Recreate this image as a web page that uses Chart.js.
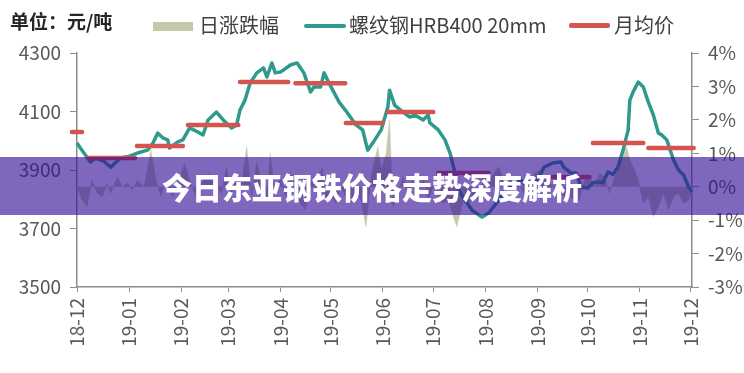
<!DOCTYPE html>
<html>
<head>
<meta charset="utf-8">
<script src="https://cdn.jsdelivr.net/npm/chart.js@4.4.1/dist/chart.umd.min.js"></script>
<style>
  body { margin: 0; background: #fff; }
  #wrap { position: relative; width: 744px; height: 373px; overflow: hidden;
          font-family: "Noto Sans CJK SC", "Noto Sans", sans-serif; }
  #c { position: absolute; left: 0; top: 0; }
  .unit { position: absolute; left: 10px; top: 7px; font-size: 19px; font-weight: bold; color: #262626; }
  .lg { position: absolute; top: 12px; font-size: 20px; color: #404040; line-height: 26px; }
  .sw { position: absolute; }
  #banner { position: absolute; left: 0; top: 157px; width: 744px; height: 58px;
            background: rgba(52, 14, 150, 0.63); color: #fff; text-align: center;
            font-size: 30px; font-weight: 900; line-height: 58px; letter-spacing: 0px; }
</style>
</head>
<body>
<div id="wrap">
  <canvas id="c" width="744" height="373"></canvas>
  <div class="unit">单位：元/吨</div>
  <div class="sw" style="left:153px; top:22px; width:40px; height:9px; background:#C6C8AB;"></div>
  <div class="lg" style="left:199px;">日涨跌幅</div>
  <div class="sw" style="left:304px; top:24px; width:42px; height:4px; background:#2E9A8E; border-radius:2px;"></div>
  <div class="lg" style="left:349px;">螺纹钢HRB400 20mm</div>
  <div class="sw" style="left:569px; top:23px; width:41px; height:5px; background:#D4544F; border-radius:2px;"></div>
  <div class="lg" style="left:614px;">月均价</div>
  <div id="banner">今日东亚钢铁价格走势深度解析</div>
</div>
<script>
// x axis = days since 2018-12-01
const monthDays = [0, 31, 62, 90, 121, 151, 182, 212, 243, 274, 304, 335, 365];
const monthLabels = ['18-12', '19-01', '19-02', '19-03', '19-04', '19-05', '19-06',
                     '19-07', '19-08', '19-09', '19-10', '19-11', '19-12'];

// 螺纹钢HRB400 20mm (元/吨)
const priceDays = [0, 2, 8, 11, 16, 20, 26, 30, 36, 42, 45, 48, 51, 54, 55, 60, 63, 67, 72, 75,
  78, 83, 87, 92, 95, 97, 100, 103, 107, 111, 113, 116, 118, 121, 123, 127, 131, 135, 139, 141,
  145, 147, 150, 156, 161, 166, 170, 173, 176, 181, 185, 186, 189, 194, 198, 201, 206, 209, 210,
  215, 219, 222, 225, 227, 231, 235, 241, 245, 248, 252, 256, 260, 264, 268, 274, 278, 283, 288,
  290, 294, 297, 300, 304, 307, 310, 313, 316, 319, 322, 325, 328, 329, 331, 334, 337, 340, 343,
  346, 348, 351, 355, 358, 361, 364, 366];
const priceValues = [3992, 3975, 3927, 3941, 3930, 3910, 3941, 3945, 3958, 3968, 3990, 4026, 4010,
  4003, 3975, 3996, 4003, 4044, 4030, 4020, 4071, 4098, 4071, 4044, 4054, 4105, 4139, 4197, 4232,
  4249, 4218, 4266, 4232, 4235, 4242, 4259, 4266, 4232, 4167, 4184, 4184, 4232, 4197, 4132, 4095,
  4054, 4037, 3968, 3992, 4037, 4115, 4173, 4122, 4098, 4081, 4088, 4071, 4088, 4061, 4037, 4003,
  3958, 3890, 3832, 3797, 3763, 3739, 3753, 3775, 3805, 3842, 3842, 3866, 3842, 3866, 3910, 3924,
  3927, 3907, 3890, 3890, 3842, 3838, 3856, 3860, 3856, 3893, 3885, 3910, 3968, 4037, 4139, 4167,
  4201, 4184, 4132, 4088, 4026, 4020, 4003, 3934, 3900, 3883, 3842, 3825];

// 月均价 segments
const avgStart = [-3, 6.5, 35.7, 66, 97, 130, 160, 185, 215, 283, 307, 340];
const avgEnd = [3, 34.5, 63, 96, 125.7, 159.6, 182, 212, 245, 305, 337, 367];
const avgValues = [4030, 3941, 3982, 4054, 4201, 4197, 4061, 4098, 3890, 3876, 3992, 3975];

// 日涨跌幅 (%)
const changeDays = [0, 3, 6, 9, 12, 15, 18, 20, 24, 27, 30, 33, 36, 40, 44, 47, 50, 53, 57, 60,
  64, 67, 71, 74, 78, 82, 86, 89, 92, 95, 98, 101, 104, 107, 110, 113, 115, 118, 121, 124, 127,
  130, 133, 136, 139, 142, 146, 148, 151, 154, 157, 160, 163, 166, 169, 172, 175, 179, 181, 184,
  186, 188, 191, 194, 197, 200, 203, 206, 209, 212, 215, 218, 221, 224, 226, 230, 233, 236, 239,
  242, 245, 248, 251, 254, 257, 260, 263, 266, 269, 272, 275, 278, 281, 284, 287, 290, 293, 296,
  299, 302, 305, 308, 311, 314, 317, 320, 323, 327, 329, 331, 334, 337, 340, 343, 346, 349, 352,
  355, 358, 361, 364, 366];
const changeValues = [0, -0.4, -0.6, 0.2, -0.2, -0.3, 0.1, -0.2, 0.3, 0.0, 0.1, -0.1, 0.2, 0.0,
  1.1, 0.2, -0.3, 0.2, -0.3, 0.1, 0.7, 0.2, -0.3, 0.1, 0.4, 0.2, -0.2, 0.6, -0.2, 0.3, 0.1, 1.2,
  -0.3, 0.75, 0.1, -0.4, 1.0, -0.2, 0.3, -0.3, 0.4, 0.2, -0.5, -0.7, 0.2, 0.0, 0.6, -0.4, -0.2,
  -0.5, 0.0, -0.3, -0.5, -0.2, -0.4, -1.2, 0.3, 1.2, 0.5, 1.0, 2.0, -0.6, -0.3, 0.3, -0.2, 0.2,
  -0.2, 0.3, -0.4, 0.0, -0.3, -0.5, -0.4, -0.9, -1.2, -0.4, -0.5, -0.3, -0.4, 0.3, 0.2, 0.4, 0.6,
  0.2, 0.0, 0.3, 0.1, -0.2, 0.2, 0.4, 0.5, 0.3, 0.1, 0.0, -0.2, -0.3, -0.2, -0.5, -0.4, 0.2, 0.3,
  0.0, 0.4, 0.3, -0.2, 0.3, 0.6, 1.2, 0.8, 0.6, 0.2, -0.5, -0.3, -0.9, -0.6, -0.2, -0.7, -0.3,
  -0.2, -0.5, -0.4, -0.2];

// build the point lists
const pricePoints = priceDays.map((d, i) => ({ x: d, y: priceValues[i] }));
const changePoints = changeDays.map((d, i) => ({ x: d, y: changeValues[i] }));
const avgPoints = [];
avgStart.forEach((s, i) => {
  avgPoints.push({ x: s, y: avgValues[i] });
  avgPoints.push({ x: avgEnd[i], y: avgValues[i] });
  avgPoints.push({ x: avgEnd[i] + 0.5, y: null }); // gap between months
});

const tickFont = { family: '"Noto Sans CJK SC", "Noto Sans", sans-serif', size: 19 };
const tickColor = '#595959';
const axisColor = '#8c8c8c';

const ctx = document.getElementById('c').getContext('2d');
const chart = new Chart(ctx, {
  type: 'line',
  data: {
    datasets: [{
      label: '月均价',
      data: avgPoints,
      yAxisID: 'y',
      borderColor: '#D4544F',
      borderWidth: 4.5,
      borderCapStyle: 'round',
      spanGaps: false,
      clip: false,
      order: 0
    }, {
      label: '螺纹钢HRB400 20mm',
      data: pricePoints,
      yAxisID: 'y',
      borderColor: '#2E9A8E',
      borderWidth: 3.5,
      borderJoinStyle: 'round',
      clip: false,
      order: 1
    }, {
      label: '日涨跌幅',
      data: changePoints,
      yAxisID: 'y1',
      borderColor: '#C6C8AB',
      borderWidth: 0.5,
      backgroundColor: '#C6C8AB',
      fill: 'origin',
      order: 2
    }]
  },
  options: {
    responsive: false,
    animation: false,
    layout: { padding: { top: 53, left: 0, right: 0, bottom: 0 } },
    elements: { point: { radius: 0 }, line: { tension: 0 } },
    plugins: {
      legend: { display: false },
      tooltip: { enabled: false }
    },
    scales: {
      x: {
        type: 'linear',
        min: 0,
        max: 366,
        afterBuildTicks: function(scale) {
          scale.ticks = monthDays.map(v => ({ value: v }));
        },
        afterFit: function(scale) { scale.height = 86; },
        ticks: {
          autoSkip: false,
          minRotation: 90,
          maxRotation: 90,
          padding: 6,
          font: tickFont,
          color: tickColor,
          callback: function(value, index) { return monthLabels[index]; }
        },
        grid: { drawOnChartArea: false, tickLength: 5, color: axisColor },
        border: { color: axisColor, width: 1.5 }
      },
      y: {
        position: 'left',
        min: 3500,
        max: 4300,
        afterFit: function(scale) { scale.width = 77; },
        ticks: {
          stepSize: 200, padding: 9, font: tickFont, color: tickColor,
          callback: function(value) { return String(value); }
        },
        grid: { drawOnChartArea: false, tickLength: 7, color: axisColor },
        border: { color: axisColor, width: 1.5 }
      },
      y1: {
        position: 'right',
        min: -3,
        max: 4,
        afterFit: function(scale) { scale.width = 52; },
        ticks: {
          stepSize: 1, padding: 9, font: tickFont, color: tickColor,
          callback: function(value) { return value + '%'; }
        },
        grid: { drawOnChartArea: false, tickLength: 7, color: axisColor },
        border: { color: axisColor, width: 1.5 }
      }
    }
  }
});
</script>
</body>
</html>
